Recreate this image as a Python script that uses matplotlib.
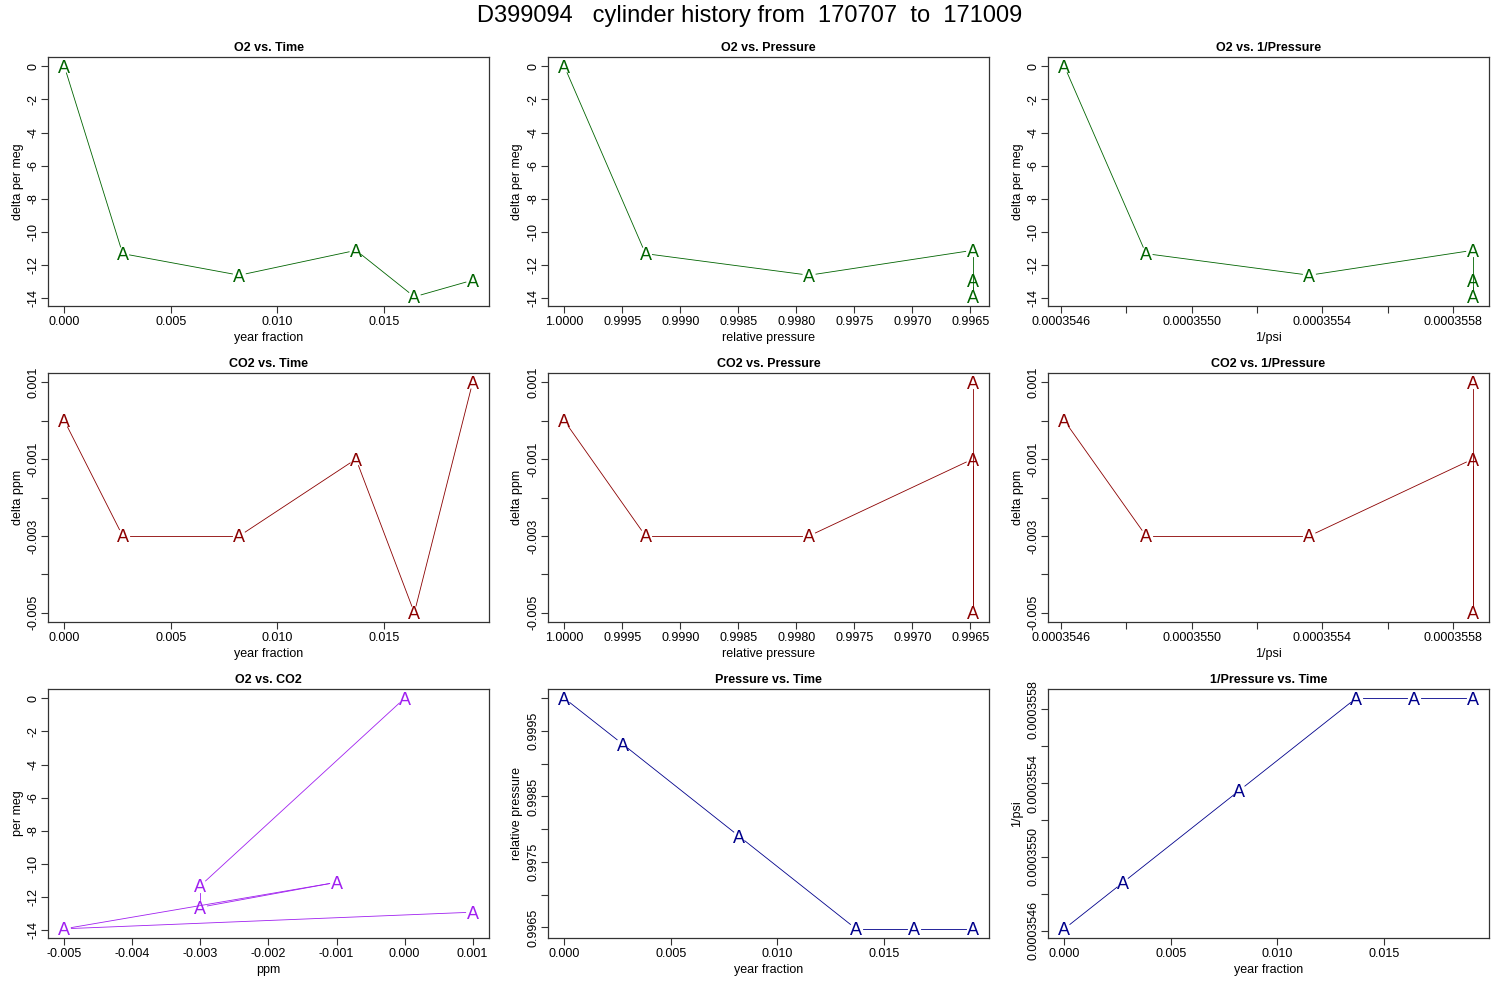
import matplotlib
matplotlib.use('Agg')
import matplotlib.pyplot as plt
import numpy as np
from matplotlib.ticker import MultipleLocator, FuncFormatter

plt.rcParams['font.family'] = ['Liberation Sans', 'DejaVu Sans']

# cylinder D399094 measurements
year_frac = [0.0, 0.00274, 0.00822, 0.01370, 0.01644, 0.01918]
o2_permeg = [0.0, -11.3, -12.6, -11.1, -13.9, -12.9]
co2_ppm = [0.0, -0.003, -0.003, -0.001, -0.005, 0.001]
rel_pressure = [1.0, 0.99930, 0.99789, 0.99648, 0.99648, 0.99648]
inv_psi = [0.00035461, 0.00035486, 0.00035536, 0.00035586, 0.00035586, 0.00035586]

GREEN = '#006400'
RED = '#8B0000'
PURPLE = '#A020F0'
BLUE = '#00008B'

title = 'D399094   cylinder history from  170707  to  171009'


def rlims(v, reverse=False):
    lo, hi = min(v), max(v)
    pad = 0.04 * (hi - lo)
    if reverse:
        return hi + pad, lo - pad
    return lo - pad, hi + pad


def odd_only(fmt, step):
    # label every other tick like R drops overlapping labels
    def f(v, pos):
        if round(v / step) % 2 == 1:
            return fmt % v
        return ''
    return FuncFormatter(f)


def style_axis(ax, xlab, ylab, ttl):
    ax.set_title(ttl, fontsize=9, fontweight='bold', pad=4)
    ax.set_xlabel(xlab, fontsize=9, labelpad=3)
    ax.set_ylabel(ylab, fontsize=9, labelpad=3)
    ax.tick_params(axis='both', direction='out', length=5, width=0.8,
                   labelsize=9, color='#333333')
    ax.tick_params(axis='x', pad=2)
    ax.tick_params(axis='y', labelrotation=90, pad=1)
    for lab in ax.get_yticklabels():
        lab.set_va('center')
    for s in ax.spines.values():
        s.set_color('#333333')
        s.set_linewidth(0.9)


def draw_b(ax, x, y, color, gap=7):
    # R type="b": lines broken around the plotting characters
    trans = ax.transData
    pts = trans.transform(np.column_stack([x, y]))
    inv = trans.inverted()
    for p0, p1 in zip(pts[:-1], pts[1:]):
        d = p1 - p0
        L = np.hypot(d[0], d[1])
        if L <= 2 * gap:
            continue
        u = d / L
        seg = inv.transform(np.array([p0 + u * gap, p1 - u * gap]))
        ax.plot(seg[:, 0], seg[:, 1], color=color, lw=0.6)
    for xi, yi in zip(x, y):
        ax.text(xi, yi, 'A', color=color, ha='center', va='center_baseline',
                fontsize=13)


fig = plt.figure(figsize=(15, 10), dpi=100)
fig.text(0.5, 0.978, title, ha='center', va='baseline', fontsize=17)

lefts = [0.032, 0.3653, 0.6987]
bottoms = [0.694, 0.378, 0.062]
w, h = 0.294, 0.249

axes = [[fig.add_axes([l, b, w, h]) for l in lefts] for b in bottoms]

panels = [
    (0, 0, year_frac, o2_permeg, GREEN, 'year fraction', 'delta per meg', 'O2 vs. Time', False),
    (0, 1, rel_pressure, o2_permeg, GREEN, 'relative pressure', 'delta per meg', 'O2 vs. Pressure', True),
    (0, 2, inv_psi, o2_permeg, GREEN, '1/psi', 'delta per meg', 'O2 vs. 1/Pressure', False),
    (1, 0, year_frac, co2_ppm, RED, 'year fraction', 'delta ppm', 'CO2 vs. Time', False),
    (1, 1, rel_pressure, co2_ppm, RED, 'relative pressure', 'delta ppm', 'CO2 vs. Pressure', True),
    (1, 2, inv_psi, co2_ppm, RED, '1/psi', 'delta ppm', 'CO2 vs. 1/Pressure', False),
    (2, 0, co2_ppm, o2_permeg, PURPLE, 'ppm', 'per meg', 'O2 vs. CO2', False),
    (2, 1, year_frac, rel_pressure, BLUE, 'year fraction', 'relative pressure', 'Pressure vs. Time', False),
    (2, 2, year_frac, inv_psi, BLUE, 'year fraction', '1/psi', '1/Pressure vs. Time', False),
]

for r, c, xv, yv, col, xlab, ylab, ttl, rev in panels:
    ax = axes[r][c]
    ax.set_xlim(*rlims(xv, rev))
    ax.set_ylim(*rlims(yv))

    # x ticks
    if xv is year_frac:
        ax.xaxis.set_major_locator(MultipleLocator(0.005))
        ax.xaxis.set_major_formatter(FuncFormatter(lambda v, p: '%.3f' % v))
    elif xv is rel_pressure:
        ax.xaxis.set_major_locator(MultipleLocator(0.0005))
        ax.xaxis.set_major_formatter(FuncFormatter(lambda v, p: '%.4f' % v))
    elif xv is inv_psi:
        ax.xaxis.set_major_locator(MultipleLocator(2e-7))
        ax.xaxis.set_major_formatter(odd_only('%.7f', 2e-7))
    else:
        ax.xaxis.set_major_locator(MultipleLocator(0.001))
        ax.xaxis.set_major_formatter(FuncFormatter(lambda v, p: '%.3f' % v))

    # y ticks
    if yv is o2_permeg:
        ax.yaxis.set_major_locator(MultipleLocator(2))
        ax.yaxis.set_major_formatter(FuncFormatter(lambda v, p: '%d' % round(v)))
    elif yv is co2_ppm:
        ax.yaxis.set_major_locator(MultipleLocator(0.001))
        ax.yaxis.set_major_formatter(odd_only('%.3f', 0.001))
    elif yv is rel_pressure:
        ax.yaxis.set_major_locator(MultipleLocator(0.0005))
        ax.yaxis.set_major_formatter(odd_only('%.4f', 0.0005))
    else:
        ax.yaxis.set_major_locator(MultipleLocator(2e-7))
        ax.yaxis.set_major_formatter(odd_only('%.7f', 2e-7))

    style_axis(ax, xlab, ylab, ttl)
    draw_b(ax, xv, yv, col)

fig.savefig('out.png', dpi=100)
